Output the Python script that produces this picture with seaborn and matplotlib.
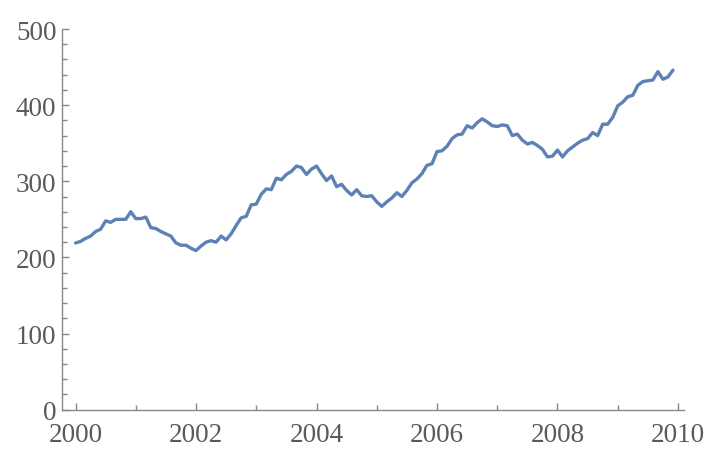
import numpy as np
import pandas as pd
import seaborn as sns
import matplotlib.pyplot as plt
from matplotlib.ticker import MultipleLocator

# Monthly values, Jan 2000 - Dec 2009
values_2000 = [219, 221, 225, 228, 234, 237, 248, 246, 250, 250, 250, 260]
values_2001 = [251, 251, 253, 239, 238, 234, 231, 228, 219, 216, 216, 212]
values_2002 = [209, 215, 220, 222, 220, 228, 223, 231, 242, 252, 254, 269]
values_2003 = [270, 283, 290, 289, 304, 302, 309, 313, 320, 318, 309, 316]
values_2004 = [320, 310, 301, 307, 293, 296, 288, 282, 289, 281, 280, 281]
values_2005 = [273, 267, 273, 278, 285, 280, 288, 298, 303, 310, 321, 323]
values_2006 = [339, 340, 346, 356, 361, 362, 373, 370, 377, 382, 378, 373]
values_2007 = [372, 374, 373, 360, 362, 354, 349, 351, 347, 342, 332, 333]
values_2008 = [341, 332, 340, 345, 350, 354, 356, 364, 360, 375, 375, 384]
values_2009 = [399, 404, 411, 413, 426, 431, 432, 433, 444, 434, 437, 446]

years = list(range(2000, 2010))
all_values = (values_2000 + values_2001 + values_2002 + values_2003 + values_2004
              + values_2005 + values_2006 + values_2007 + values_2008 + values_2009)
x_ticks = [2000, 2002, 2004, 2006, 2008, 2010]
y_ticks = [0, 100, 200, 300, 400, 500]

df = pd.DataFrame({
    'Time': [y + m / 12 for y in years for m in range(12)],
    'Value': all_values,
})

sns.set_style('ticks')
plt.rcParams['font.family'] = ['Liberation Serif', 'DejaVu Serif']

axis_col = '#888888'
text_col = '#5a5a5a'

fig = plt.figure(figsize=(7.08, 4.52), dpi=100)
ax = fig.add_axes([0.0876, 0.0914, 0.8792, 0.8422])
sns.lineplot(data=df, x='Time', y='Value', color='#5e81b5', linewidth=2.4, ax=ax)

ax.set_xlim(1999.776, 2010.108)
ax.set_ylim(0, 500)
ax.set_xticks(x_ticks)
ax.set_xticklabels([str(t) for t in x_ticks])
ax.set_yticks(y_ticks)
ax.xaxis.set_minor_locator(MultipleLocator(1))
ax.yaxis.set_minor_locator(MultipleLocator(20))
ax.set_xlabel('')
ax.set_ylabel('')

sns.despine(ax=ax)
for side in ['left', 'bottom']:
    ax.spines[side].set_color(axis_col)
    ax.spines[side].set_linewidth(1.0)

ax.tick_params(which='both', direction='in', color=axis_col, width=1.0,
               labelcolor=text_col, labelsize=19.5)
ax.tick_params(which='major', length=5)
ax.tick_params(which='minor', length=3.5)
ax.tick_params(axis='x', pad=9)
ax.tick_params(axis='y', pad=4)

fig.savefig('out.png', dpi=100)
